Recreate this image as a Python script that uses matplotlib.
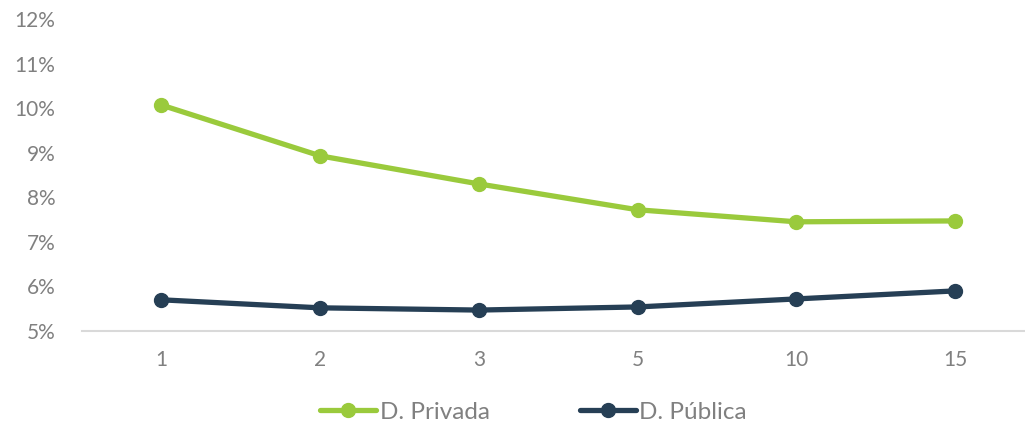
import matplotlib
matplotlib.use('Agg')
import matplotlib.pyplot as plt
from matplotlib.ticker import FuncFormatter

plt.rcParams['font.family'] = ['Lato', 'DejaVu Sans']

# data -----------------------------------------------------------------
plazos = ['1', '2', '3', '5', '10', '15']
privada = [10.07, 8.93, 8.30, 7.72, 7.45, 7.47]
publica = [5.70, 5.52, 5.47, 5.54, 5.72, 5.90]

verde = '#9ACA3C'
azul = '#263F55'
gris = '#808080'

fig = plt.figure(figsize=(10.25, 4.28), dpi=100)
ax = fig.add_axes([0.08, 0.2266, 0.92, 0.729])

x = range(len(plazos))
ax.plot(x, privada, color=verde, lw=3.8, marker='o', ms=10, label='D. Privada',
        solid_capstyle='round')
ax.plot(x, publica, color=azul, lw=3.8, marker='o', ms=10, label='D. Pública',
        solid_capstyle='round')

ax.set_xlim(-0.5, 5.44)
ax.set_ylim(5, 12)
ax.set_yticks(range(5, 13))
ax.yaxis.set_major_formatter(FuncFormatter(lambda v, p: '{:.0f}%'.format(v)))
ax.set_xticks(list(x))
ax.set_xticklabels(plazos)

for s in ['top', 'right', 'left']:
    ax.spines[s].set_visible(False)
ax.spines['bottom'].set_color('#D9D9D9')
ax.spines['bottom'].set_linewidth(1.5)
ax.tick_params(axis='both', length=0, labelsize=15, labelcolor=gris)
ax.tick_params(axis='x', pad=14)
ax.tick_params(axis='y', pad=19)

# legend below ----------------------------------------------------------
fig.legend(loc='center', bbox_to_anchor=(0.5205, 0.037), ncol=2, frameon=False,
           fontsize=17.5, labelcolor=gris, columnspacing=3.7, handlelength=2.3,
           handletextpad=0.15)

fig.savefig('out.png', dpi=100)
